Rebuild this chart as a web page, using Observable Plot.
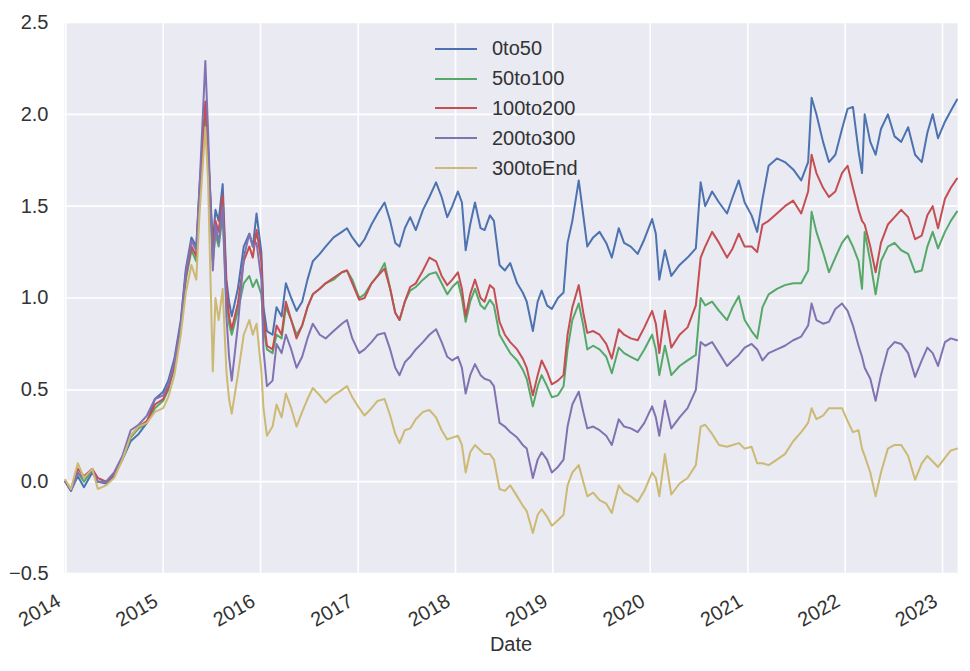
<!DOCTYPE html>
<html><head><meta charset="utf-8">
<script src="https://cdn.jsdelivr.net/npm/d3@7"></script>
<script src="https://cdn.jsdelivr.net/npm/@observablehq/plot@0.6"></script>
<style>
body{margin:0;background:#fff;}
#wrap{position:relative;width:970px;height:671px;font-family:"Liberation Sans",Arial,sans-serif;}
#legend{position:absolute;left:435px;top:34px;}
.row{display:flex;align-items:center;height:29.8px;font-size:20px;color:#333;}
.sw{width:42px;height:0;border-top:2px solid;margin-right:15px;}
</style></head>
<body><div id="wrap"></div>
<script>
const dates = ["2013-12-30","2014-01-20","2014-02-15","2014-03-10","2014-04-10","2014-05-01","2014-06-01","2014-07-01","2014-08-01","2014-09-01","2014-10-01","2014-11-01","2014-12-01",
"2015-01-01","2015-01-20","2015-02-12","2015-03-08","2015-03-27","2015-04-17","2015-05-05","2015-05-17","2015-06-08","2015-06-18",
"2015-07-06","2015-07-16","2015-07-28","2015-08-12","2015-08-26","2015-09-05","2015-09-15","2015-10-08","2015-10-30","2015-11-20","2015-12-03","2015-12-17",
"2016-01-04","2016-01-12","2016-01-25","2016-02-15","2016-03-01","2016-03-20","2016-04-05","2016-04-25","2016-05-15","2016-06-05","2016-06-25","2016-07-15","2016-08-10","2016-09-01","2016-10-01","2016-11-01","2016-11-20","2016-12-10",
"2017-01-05","2017-01-25","2017-02-20","2017-03-15","2017-04-10","2017-05-01","2017-05-20","2017-06-05","2017-06-25","2017-07-15","2017-08-05","2017-09-01","2017-09-25","2017-10-20","2017-11-10","2017-12-01","2017-12-20",
"2018-01-10","2018-01-25","2018-02-08","2018-02-25","2018-03-15","2018-04-05","2018-04-20","2018-05-10","2018-05-25","2018-06-15","2018-07-05","2018-07-25","2018-08-20","2018-09-10","2018-09-25","2018-10-18","2018-11-05","2018-11-20","2018-12-10","2018-12-28",
"2019-01-20","2019-02-10","2019-02-25","2019-03-15","2019-04-08","2019-04-25","2019-05-10","2019-06-01","2019-06-25","2019-07-20","2019-08-10","2019-09-05","2019-09-25","2019-10-20","2019-11-15","2019-12-10",
"2020-01-08","2020-01-22","2020-02-04","2020-02-25","2020-03-20","2020-04-20","2020-05-20","2020-06-20","2020-07-08","2020-07-25","2020-08-20","2020-09-15","2020-10-15","2020-11-05","2020-11-28","2020-12-20",
"2021-01-15","2021-02-05","2021-02-25","2021-03-20","2021-04-20","2021-05-20","2021-06-20","2021-07-20","2021-08-15","2021-08-28","2021-09-15","2021-10-10","2021-11-01","2021-11-25","2021-12-20",
"2022-01-10","2022-01-30","2022-02-20","2022-03-05","2022-03-15","2022-04-05","2022-04-25","2022-05-15","2022-06-10","2022-07-05","2022-07-30","2022-08-25","2022-09-20","2022-10-15","2022-11-05","2022-11-25","2022-12-15","2023-01-10","2023-02-01","2023-02-24"];

const s0to50 = [0.00,-0.05,0.03,-0.03,0.05,0.00,-0.01,0.03,0.12,0.22,0.26,0.32,0.45,
0.49,0.55,0.67,0.88,1.16,1.33,1.28,1.60,2.03,1.80,
1.30,1.48,1.42,1.62,1.10,0.98,0.90,1.05,1.28,1.35,1.28,1.46,
1.25,0.95,0.82,0.80,0.95,0.90,1.08,1.00,0.93,0.98,1.10,1.20,1.24,1.28,1.33,1.36,1.38,1.33,
1.28,1.32,1.40,1.46,1.52,1.42,1.30,1.28,1.38,1.44,1.37,1.48,1.55,1.63,1.55,1.44,1.50,
1.58,1.52,1.26,1.40,1.52,1.38,1.37,1.45,1.42,1.18,1.15,1.19,1.08,1.03,0.98,0.82,0.98,1.04,0.96,0.94,
1.00,1.03,1.30,1.42,1.64,1.45,1.28,1.33,1.36,1.30,1.22,1.38,1.30,1.28,1.24,1.32,
1.43,1.35,1.10,1.26,1.12,1.18,1.22,1.27,1.63,1.50,1.58,1.52,1.46,1.55,1.64,1.52,
1.45,1.36,1.54,1.72,1.76,1.74,1.70,1.64,1.74,2.09,2.00,1.85,1.74,1.78,1.92,
2.03,2.04,1.80,1.68,2.00,1.85,1.78,1.92,2.00,1.88,1.85,1.93,1.78,1.74,1.90,2.00,1.87,1.96,2.02,2.08];

const s50to100 = [0.00,-0.05,0.05,0.00,0.06,0.00,0.00,0.04,0.12,0.24,0.29,0.32,0.40,
0.44,0.50,0.62,0.84,1.10,1.26,1.20,1.52,1.98,1.75,
1.20,1.35,1.28,1.45,1.00,0.86,0.80,0.93,1.08,1.12,1.06,1.10,
1.02,0.84,0.72,0.70,0.80,0.78,0.95,0.88,0.80,0.85,0.95,1.02,1.05,1.08,1.10,1.14,1.15,1.10,
1.00,1.02,1.08,1.12,1.19,1.05,0.92,0.88,0.98,1.04,1.06,1.10,1.13,1.14,1.08,1.02,1.06,
1.09,1.00,0.87,0.98,1.05,0.96,0.94,0.99,0.96,0.80,0.75,0.70,0.66,0.61,0.56,0.41,0.52,0.58,0.52,0.46,
0.47,0.52,0.72,0.88,0.97,0.85,0.72,0.74,0.72,0.68,0.59,0.73,0.70,0.68,0.66,0.72,
0.80,0.72,0.58,0.74,0.58,0.63,0.66,0.69,1.00,0.96,0.98,0.93,0.88,0.95,1.01,0.88,
0.82,0.78,0.95,1.02,1.05,1.07,1.08,1.08,1.15,1.47,1.36,1.25,1.14,1.22,1.30,
1.34,1.28,1.20,1.05,1.36,1.20,1.02,1.20,1.28,1.30,1.26,1.24,1.14,1.15,1.28,1.36,1.27,1.36,1.42,1.47];

const s100to200 = [0.00,-0.04,0.07,0.03,0.07,0.02,0.00,0.04,0.13,0.25,0.30,0.33,0.42,
0.45,0.51,0.63,0.85,1.12,1.28,1.23,1.56,2.07,1.82,
1.25,1.42,1.36,1.56,1.05,0.90,0.83,0.97,1.20,1.28,1.22,1.37,
1.20,0.90,0.74,0.72,0.85,0.80,0.98,0.88,0.78,0.85,0.95,1.02,1.05,1.08,1.11,1.14,1.15,1.08,
0.99,1.00,1.08,1.12,1.16,1.05,0.92,0.88,0.98,1.06,1.08,1.15,1.22,1.20,1.12,1.07,1.10,
1.14,1.05,0.90,1.02,1.10,1.00,0.98,1.07,1.05,0.87,0.80,0.76,0.72,0.67,0.62,0.47,0.58,0.66,0.60,0.53,
0.55,0.58,0.80,0.95,1.07,0.92,0.81,0.82,0.80,0.75,0.67,0.83,0.80,0.78,0.77,0.84,
0.93,0.86,0.70,0.93,0.73,0.80,0.84,0.96,1.22,1.28,1.36,1.30,1.22,1.27,1.35,1.28,
1.28,1.25,1.40,1.42,1.46,1.50,1.53,1.46,1.58,1.78,1.68,1.60,1.55,1.58,1.68,
1.72,1.60,1.48,1.42,1.40,1.28,1.14,1.30,1.40,1.44,1.48,1.44,1.32,1.34,1.45,1.50,1.38,1.54,1.60,1.65];

const s200to300 = [0.00,-0.05,0.05,0.02,0.06,0.00,0.00,0.05,0.14,0.28,0.31,0.36,0.45,
0.47,0.53,0.65,0.86,1.14,1.31,1.26,1.60,2.29,1.92,
1.15,1.40,1.30,1.50,0.90,0.68,0.55,0.85,1.22,1.35,1.28,1.30,
1.10,0.72,0.52,0.55,0.75,0.70,0.80,0.72,0.62,0.68,0.78,0.86,0.80,0.78,0.82,0.86,0.88,0.78,
0.70,0.72,0.76,0.80,0.81,0.72,0.62,0.58,0.65,0.68,0.72,0.76,0.80,0.83,0.76,0.68,0.66,
0.68,0.62,0.48,0.58,0.64,0.58,0.56,0.55,0.52,0.32,0.30,0.27,0.24,0.20,0.18,0.02,0.12,0.16,0.12,0.05,
0.08,0.12,0.30,0.42,0.49,0.38,0.29,0.30,0.28,0.25,0.20,0.34,0.30,0.29,0.27,0.32,
0.41,0.35,0.25,0.44,0.29,0.35,0.40,0.50,0.76,0.74,0.76,0.70,0.63,0.66,0.69,0.73,
0.75,0.72,0.66,0.70,0.72,0.74,0.77,0.79,0.85,0.97,0.88,0.86,0.87,0.94,0.97,
0.93,0.85,0.74,0.68,0.62,0.56,0.44,0.58,0.72,0.76,0.75,0.70,0.57,0.66,0.73,0.70,0.63,0.76,0.78,0.77];

const s300toEnd = [0.01,-0.04,0.10,0.02,0.07,-0.04,-0.02,0.02,0.12,0.25,0.30,0.32,0.38,
0.40,0.46,0.58,0.80,1.03,1.18,1.10,1.45,1.93,1.65,
0.60,1.00,0.88,1.05,0.60,0.45,0.37,0.58,0.80,0.88,0.80,0.86,
0.60,0.40,0.25,0.30,0.42,0.35,0.48,0.40,0.30,0.38,0.45,0.51,0.47,0.43,0.47,0.50,0.52,0.46,
0.40,0.36,0.40,0.44,0.45,0.36,0.26,0.21,0.28,0.29,0.34,0.38,0.39,0.35,0.28,0.23,0.24,
0.25,0.20,0.05,0.16,0.20,0.17,0.15,0.15,0.12,-0.04,-0.05,-0.02,-0.08,-0.13,-0.16,-0.28,-0.18,-0.15,-0.19,-0.24,
-0.21,-0.18,-0.02,0.05,0.09,0.00,-0.08,-0.06,-0.10,-0.12,-0.17,-0.02,-0.06,-0.08,-0.11,-0.05,
0.05,0.02,-0.08,0.15,-0.07,-0.01,0.02,0.09,0.30,0.31,0.26,0.20,0.19,0.20,0.21,0.18,
0.19,0.10,0.10,0.09,0.12,0.15,0.22,0.27,0.32,0.40,0.34,0.36,0.40,0.40,0.40,
0.33,0.27,0.28,0.18,0.14,0.05,-0.08,0.05,0.18,0.20,0.20,0.14,0.01,0.10,0.14,0.11,0.08,0.13,0.17,0.18];

const seriesNames = ["0to50","50to100","100to200","200to300","300toEnd"];
const seriesValues = [s0to50, s50to100, s100to200, s200to300, s300toEnd];
const seriesColors = ["#4C72B0","#55A868","#C44E52","#8172B2","#CCB974"];
const yTicks = [-0.5, 0.0, 0.5, 1.0, 1.5, 2.0, 2.5];
const xTickLabels = ["2014","2015","2016","2017","2018","2019","2020","2021","2022","2023"];
const xAxisLabel = "Date";

const xTicks = xTickLabels.map(y => new Date(`${y}-01-01`));
const tables = seriesNames.map((name, i) =>
  dates.map((d, j) => ({date: new Date(d), value: seriesValues[i][j], series: name})));

const chart = Plot.plot({
  width: 970,
  height: 671,
  marginLeft: 64,
  marginRight: 13,
  marginTop: 22,
  marginBottom: 98,
  style: {fontFamily: "'Liberation Sans', Arial, sans-serif", fontSize: "20px", color: "#333", background: "white"},
  x: {type: "utc", domain: [new Date("2013-12-27"), new Date("2023-02-26")], axis: null},
  y: {domain: [-0.5, 2.5], axis: null},
  color: {domain: seriesNames, range: seriesColors},
  marks: [
    Plot.frame({fill: "#EAEAF2", stroke: null}),
    Plot.gridX(xTicks, {stroke: "white", strokeOpacity: 1, strokeWidth: 1.6}),
    Plot.gridY(yTicks, {stroke: "white", strokeOpacity: 1, strokeWidth: 1.6}),
    Plot.axisY(yTicks, {anchor: "left", tickSize: 0, tickPadding: 16, label: null, fontSize: 20,
      tickFormat: d => d3.format(".1f")(d)}),
    ...tables.map(t => Plot.line(t, {x: "date", y: "value", stroke: "series", strokeWidth: 2, strokeLinejoin: "round"})),
    Plot.text(xTicks, {x: d => d, text: (d, i) => xTickLabels[i], frameAnchor: "bottom", rotate: -30,
      textAnchor: "end", lineAnchor: "middle", dx: -7, dy: 26, fontSize: 20, fill: "#333"}),
    Plot.text([xAxisLabel], {text: d => d, frameAnchor: "bottom", dy: 77, fontSize: 20, fill: "#333"})
  ]
});

const wrap = document.getElementById("wrap");
wrap.appendChild(chart);
const legend = document.createElement("div");
legend.id = "legend";
seriesNames.forEach((name, i) => {
  const row = document.createElement("div");
  row.className = "row";
  const sw = document.createElement("span");
  sw.className = "sw";
  sw.style.borderTopColor = seriesColors[i];
  const lab = document.createElement("span");
  lab.textContent = name;
  row.appendChild(sw);
  row.appendChild(lab);
  legend.appendChild(row);
});
wrap.appendChild(legend);
</script>
</body></html>
